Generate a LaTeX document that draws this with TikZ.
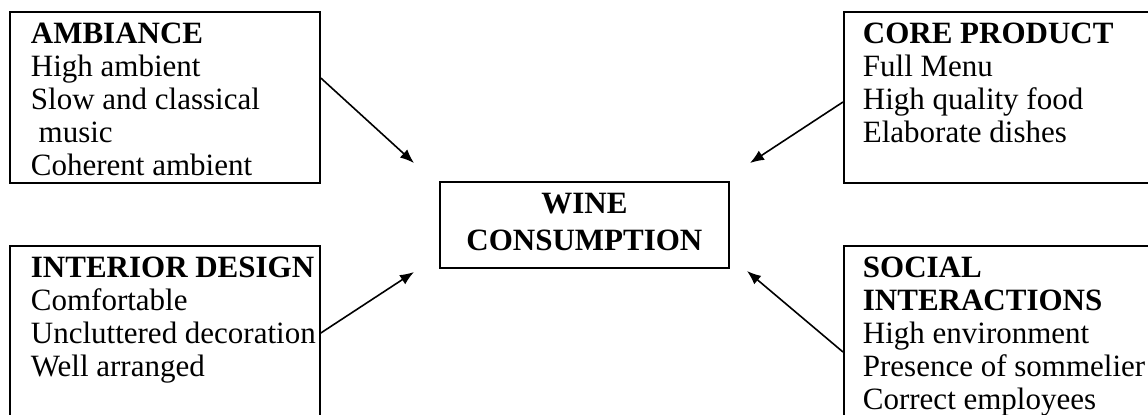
\documentclass[tikz,border=0pt]{standalone}
\usepackage{fontspec}
\setmainfont{Liberation Serif}
\usetikzlibrary{arrows.meta}
\newcommand{\boxtext}[4]{\parbox[t][#2][t]{#1}{\leftskip=#3\parindent=0pt\rule{0pt}{16pt}#4}}
\begin{document}
\begin{tikzpicture}[x=0.5pt,y=-0.5pt,
  box/.style={draw, line width=0.9pt, inner sep=0pt, anchor=north west, font=\fontsize{15.5}{16.5}\selectfont},
  arr/.style={line width=0.8pt, -{Latex[length=7pt,width=5.5pt]}}]
\useasboundingbox (0,0) rectangle (1148,414);
\clip (0,0) rectangle (1148,414);
\node[box] (amb) at (9,11) {\boxtext{155pt}{85.5pt}{10.5pt}{\mbox{\textbf{AMBIANCE}}\\\mbox{High ambient}\\\mbox{Slow and classical}\\\mbox{\ music}\\\mbox{Coherent ambient}}};
\node[box] (core) at (843,11) {\boxtext{158.5pt}{85.5pt}{9.5pt}{\mbox{\textbf{CORE PRODUCT}}\\\mbox{Full Menu}\\\mbox{High quality food}\\\mbox{Elaborate dishes}}};
\node[box] (int) at (9,245) {\boxtext{155pt}{92.5pt}{10.5pt}{\mbox{\textbf{INTERIOR DESIGN}}\\\mbox{Comfortable}\\\mbox{Uncluttered decoration}\\\mbox{Well arranged}}};
\node[box] (soc) at (843,245) {\boxtext{158.5pt}{92.5pt}{9.5pt}{\mbox{\textbf{SOCIAL}}\\\mbox{\textbf{INTERACTIONS}}\\\mbox{High environment}\\\mbox{Presence of sommelier}\\\mbox{Correct employees}}};
\node[box, font=\fontsize{15.5}{18.5}\selectfont\bfseries] (wine) at (439,181) {\parbox[t][43pt][t]{144.5pt}{\centering\rule{0pt}{16pt}WINE\\CONSUMPTION}};
\coordinate (t1) at (414,163);
\coordinate (t2) at (750,163);
\coordinate (t3) at (414,272);
\coordinate (t4) at (747,271);
\draw[arr] ([yshift=-33.5pt]amb.north east) -- (t1);
\draw[arr] ([yshift=-45.5pt]core.north west) -- (t2);
\draw[arr] ([yshift=-44pt]int.north east) -- (t3);
\draw[arr] ([yshift=-53.5pt]soc.north west) -- (t4);
\end{tikzpicture}
\end{document}
